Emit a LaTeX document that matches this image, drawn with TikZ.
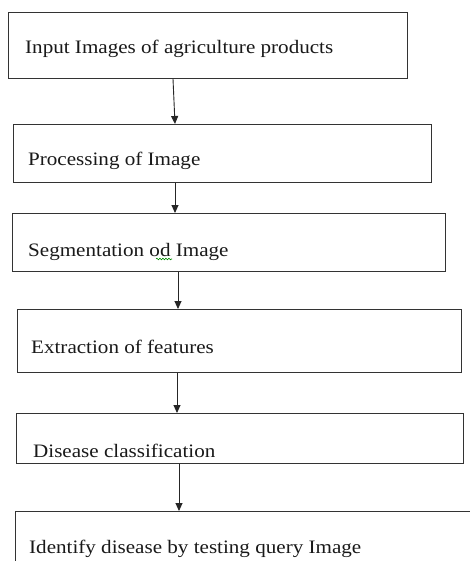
\documentclass[tikz,border=0pt]{standalone}
\usepackage{fontspec}
\setmainfont{Liberation Serif}[FakeStretch=1.11]
\usetikzlibrary{arrows.meta,decorations.pathmorphing}
\tikzset{
  box/.style={draw=black!80, line width=0.9pt, anchor=north west, inner sep=0pt, fill=white},
  lbl/.style={anchor=base west, inner sep=0pt, font=\fontsize{19}{22}\selectfont, text=black!90},
  arr/.style={draw=black!85, line width=0.9pt, -{Triangle[width=7pt,length=8pt]}, shorten >=0pt},
  squiggle/.style={draw=green!55!black, line width=0.6pt, decorate, decoration={snake, amplitude=0.8pt, segment length=3pt}}
}
\begin{document}
\begin{tikzpicture}[x=1pt,y=-1pt]
\path[use as bounding box, clip] (0,0) rectangle (470,561);
\fill[white] (0,0) rectangle (470,561);
\node[box, minimum width=399pt, minimum height=66pt] (b1) at (8,12) {};
\node[box, minimum width=418pt, minimum height=58pt] (b2) at (13,124) {};
\node[box, minimum width=433pt, minimum height=58pt] (b3) at (12,213) {};
\node[box, minimum width=444pt, minimum height=63pt] (b4) at (17,309) {};
\node[box, minimum width=447pt, minimum height=50pt] (b5) at (16,413) {};
\node[box, minimum width=480pt, minimum height=80pt] (b6) at (15,511) {};
\node[lbl] (t1) at (25,54) {Input Images of agriculture products};
\node[lbl] (t2) at (28,166) {Processing of Image};
\node[lbl] (t3) at (28,256) {Segmentation od Image};
\node[lbl] (t4) at (31,353) {Extraction of features};
\node[lbl] (t5) at (33,457) {Disease classification};
\node[lbl] (t6) at (29,553) {Identify disease by testing query Image};
\coordinate (sq1) at (156,259);
\coordinate (sq2) at (172,259);
\draw[squiggle] (sq1) -- (sq2);
\draw[arr] ([xshift=165pt]b1.south west) -- ([xshift=162pt]b2.north west);
\draw[arr] ([xshift=162pt]b2.south west) -- ([xshift=163pt]b3.north west);
\draw[arr] ([xshift=166pt]b3.south west) -- ([xshift=161pt]b4.north west);
\draw[arr] ([xshift=160pt]b4.south west) -- ([xshift=161pt]b5.north west);
\draw[arr] ([xshift=163pt]b5.south west) -- ([xshift=164pt]b6.north west);
\end{tikzpicture}
\end{document}
